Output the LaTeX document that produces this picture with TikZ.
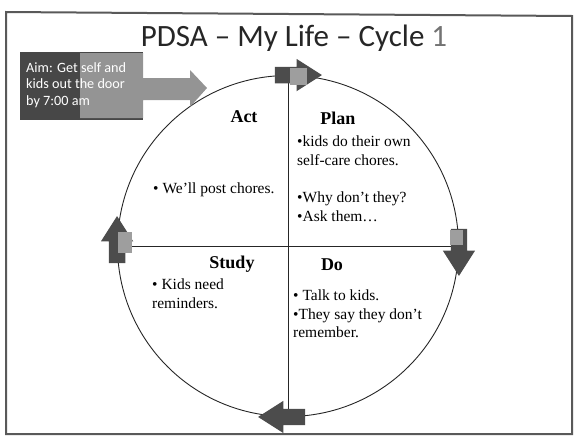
\documentclass[tikz,border=0pt]{standalone}
\usepackage{fontspec}
\setmainfont{Liberation Serif}
\newfontfamily\calibri{Carlito}
\usetikzlibrary{shapes.arrows}

\begin{document}
\begin{tikzpicture}[x=1pt, y=-1pt,
		phase_style/.style={font=\fontsize{18}{20}\selectfont\bfseries, inner sep=0pt},
		note_style/.style={font=\fontsize{15.5}{18.5}\selectfont, align=left, anchor=north west, inner sep=0pt},
		turn_style/.style={single arrow, draw=none, fill=black!70, inner sep=8pt, single arrow head extend=8pt, single arrow tip angle=65, minimum height=47pt},
		patch_style/.style={fill=black!38, inner sep=0pt},
		line_style/.style={draw=black!85, line width=0.9pt}]
		
		\useasboundingbox (0,0) rectangle (574,437);
		\draw[black!65, line width=2pt] (6,12) -- (572,16) -- (572,434) -- (6,434) -- cycle;
		
		\node[font=\calibri\fontsize{31}{34}\selectfont, text=black!85, anchor=base] (title) at (294,46) {PDSA – My Life – Cycle {\color{black!55}1}};
		
		% the cycle
		\node[line_style, circle, minimum size=341pt, inner sep=0pt] (cycle) at (288,246) {};
		\draw[line_style]  (cycle.north) -- (cycle.south);
		\draw[line_style]  (cycle.west) -- (cycle.east);
		
		\node[turn_style, shape border rotate=0] (arr_plan) at ([xshift=4pt]cycle.north) {};
		\node[turn_style, shape border rotate=270] (arr_do) at (cycle.east) {};
		\node[turn_style, shape border rotate=180] (arr_study) at (cycle.south) {};
		\node[turn_style, shape border rotate=90] (arr_act) at (cycle.west) {};
		\node[patch_style, minimum width=17pt, minimum height=17pt] (patch_plan) at (298,76) {};
		\node[patch_style, minimum width=13pt, minimum height=15pt] (patch_do) at (456,237) {};
		\node[patch_style, minimum width=14pt, minimum height=21pt] (patch_act) at (125,242) {};
		
		% aim
		\node[fill=black!72, minimum width=123pt, minimum height=68pt, anchor=north west, inner sep=0pt] (aim_box) at (20,52) {};
		\fill[black!42] (80,53) -- (143,53) -- (143,78) -- (190,78) -- (190,70) -- (207,88) -- (190,107) -- (190,100) -- (143,100) -- (143,118) -- (80,118) -- cycle;
		\node[font=\calibri\fontsize{14.2}{16.5}\selectfont, text=white, align=left, anchor=north west, inner sep=0pt] (aim) at (26,62) {Aim: Get self and\\kids out the door\\by 7:00 am};
		
		% quadrants
		\node[phase_style] (act) at (244,117) {Act};
		\node[phase_style] (plan) at (338,118) {Plan};
		\node[phase_style] (study) at (232,264) {Study};
		\node[phase_style] (do) at (332,265) {Do};
		
		\node[note_style] (plan_a) at (297,136) {•kids do their own\\self-care chores.};
		\node[note_style] (plan_b) at (297,192) {•Why don’t they?\\•Ask them…};
		\node[note_style] (act_a) at (153,183) {• We’ll post chores.};
		\node[note_style] (study_a) at (152,279) {• Kids need\\reminders.};
		\node[note_style] (do_a) at (293,290) {• Talk to kids.\\•They say they don’t\\remember.};
		
\end{tikzpicture}
\end{document}
